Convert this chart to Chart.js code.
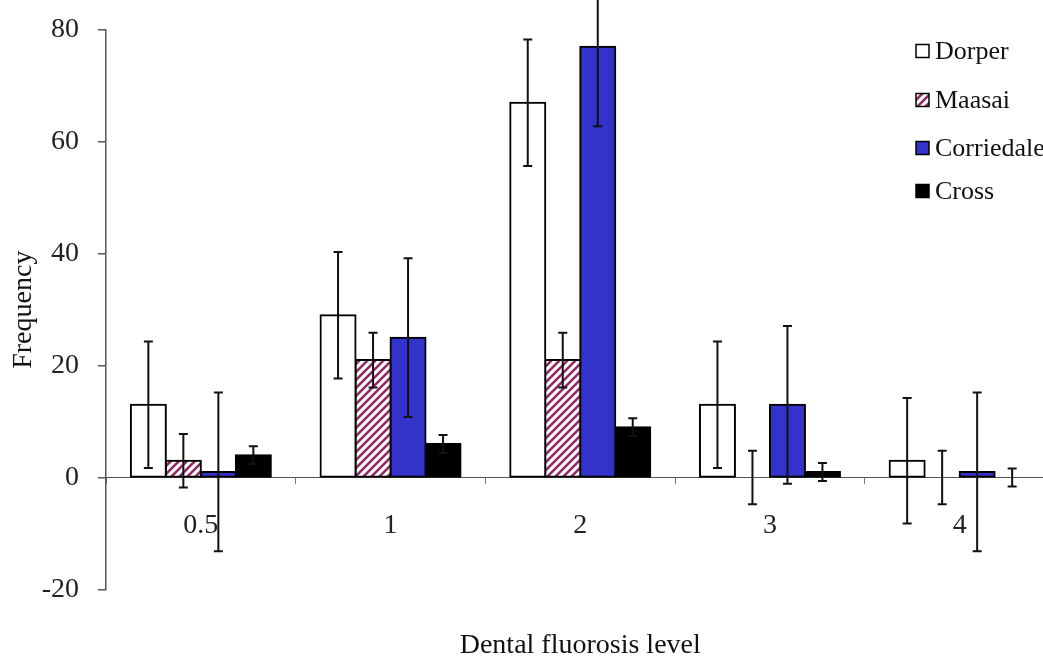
<!DOCTYPE html>
<html>
<head>
<meta charset="utf-8">
<script src="https://cdn.jsdelivr.net/npm/chart.js@4"></script>
<style>
  html, body { margin: 0; padding: 0; background: #fff; overflow: hidden; }
  #wrap { width: 1043px; height: 658px; overflow: hidden; }
</style>
</head>
<body>
<div id="wrap"><canvas id="fluorosisChart" width="1060" height="658"></canvas></div>
<script>
const levels = ['0.5', '1', '2', '3', '4'];

const dorper = [13, 29, 67, 13, 3];
const maasai = [3, 21, 21, 0, 0];
const corriedale = [1, 25, 77, 13, 1];
const cross = [4, 6, 9, 1, 0];

const dorperErr = [11.3, 11.3, 11.3, 11.3, 11.2];
const maasaiErr = [4.8, 4.9, 4.9, 4.8, 4.8];
const corriedaleErr = [14.2, 14.2, 14.2, 14.1, 14.2];
const crossErr = [1.6, 1.6, 1.6, 1.6, 1.6];

const yTicks = [-20, 0, 20, 40, 60, 80];

const serif = 'Liberation Serif';

// diagonal hatch for Maasai
function hatch() {
  const s = 8;
  const c = document.createElement('canvas');
  c.width = s; c.height = s;
  const g = c.getContext('2d');
  g.fillStyle = '#fff';
  g.fillRect(0, 0, s, s);
  g.strokeStyle = '#8e2a62';
  g.lineWidth = 2.6;
  g.beginPath();
  g.moveTo(0, s); g.lineTo(s, 0);
  g.moveTo(-s / 2, s / 2); g.lineTo(s / 2, -s / 2);
  g.moveTo(s / 2, s * 1.5); g.lineTo(s * 1.5, s / 2);
  g.stroke();
  return g.createPattern(c, 'repeat');
}

const ctx = document.getElementById('fluorosisChart').getContext('2d');

const errorBars = {
  id: 'errorBars',
  afterDatasetsDraw(chart) {
    const { ctx, scales: { y } } = chart;
    ctx.save();
    ctx.strokeStyle = '#111';
    ctx.lineWidth = 2;
    chart.data.datasets.forEach((ds, i) => {
      chart.getDatasetMeta(i).data.forEach((bar, j) => {
        const v = ds.data[j], e = ds.errors[j];
        const top = y.getPixelForValue(v + e);
        const bot = y.getPixelForValue(v - e);
        ctx.beginPath();
        ctx.moveTo(bar.x, top); ctx.lineTo(bar.x, bot);
        ctx.moveTo(bar.x - 4.5, top); ctx.lineTo(bar.x + 4.5, top);
        ctx.moveTo(bar.x - 4.5, bot); ctx.lineTo(bar.x + 4.5, bot);
        ctx.stroke();
      });
    });
    ctx.restore();
  }
};

// legend sits inside the plot, top right
const boxLegend = {
  id: 'boxLegend',
  afterDraw(chart) {
    const { ctx } = chart;
    const rows = [51, 100, 148, 191];
    ctx.save();
    ctx.font = '26px "' + serif + '"';
    ctx.textBaseline = 'middle';
    chart.data.datasets.forEach((ds, i) => {
      const y = rows[i];
      ctx.fillStyle = ds.backgroundColor;
      ctx.fillRect(916, y - 6.5, 13, 13);
      ctx.strokeStyle = '#000';
      ctx.lineWidth = 1.5;
      ctx.strokeRect(916, y - 6.5, 13, 13);
      ctx.fillStyle = '#111';
      ctx.fillText(ds.label, 935, y + 1);
    });
    ctx.restore();
  }
};

const barStyle = { borderColor: '#000', borderWidth: 2, borderSkipped: false, inflateAmount: 1 };

new Chart(ctx, {
  type: 'bar',
  data: {
    labels: levels,
    datasets: [
      { label: 'Dorper', data: dorper, errors: dorperErr, backgroundColor: '#ffffff', ...barStyle },
      { label: 'Maasai', data: maasai, errors: maasaiErr, backgroundColor: hatch(), ...barStyle },
      { label: 'Corriedale', data: corriedale, errors: corriedaleErr, backgroundColor: '#3333cc', ...barStyle },
      { label: 'Cross', data: cross, errors: crossErr, backgroundColor: '#000000', ...barStyle }
    ]
  },
  options: {
    responsive: false,
    devicePixelRatio: 1,
    animation: false,
    categoryPercentage: 0.738,
    barPercentage: 1.0,
    layout: { padding: { left: 0, right: 5.5, top: 30, bottom: 0 } },
    plugins: {
      legend: { display: false },
      tooltip: { enabled: false },
      title: {
        display: true,
        position: 'bottom',
        fullSize: false,
        text: 'Dental fluorosis level',
        color: '#111',
        font: { family: serif, size: 28, weight: 'normal' },
        padding: { top: 39, bottom: -4 }
      }
    },
    scales: {
      x: {
        position: { y: 0 },
        offset: true,
        grid: { offset: true, drawOnChartArea: false, tickLength: 6, color: '#777' },
        border: { color: '#555', width: 1 },
        ticks: { color: '#222', padding: 25, font: { family: serif, size: 28 } },
        afterFit: s => { s.height = 0; }
      },
      y: {
        min: -20,
        max: 80,
        afterBuildTicks: s => { s.ticks = yTicks.map(v => ({ value: v })); },
        grid: { drawOnChartArea: false, tickLength: 8, color: '#555', lineWidth: 1.5 },
        border: { color: '#555', width: 1.5 },
        ticks: { color: '#222', padding: 19, font: { family: serif, size: 28 } },
        title: {
          display: true,
          text: 'Frequency',
          color: '#111',
          font: { family: serif, size: 28 },
          padding: { top: 7, bottom: 0 }
        },
        afterFit: s => { s.width = 106; s.paddingTop = 0; s.paddingBottom = 0; }
      }
    }
  },
  plugins: [errorBars, boxLegend]
});
</script>
</body>
</html>
